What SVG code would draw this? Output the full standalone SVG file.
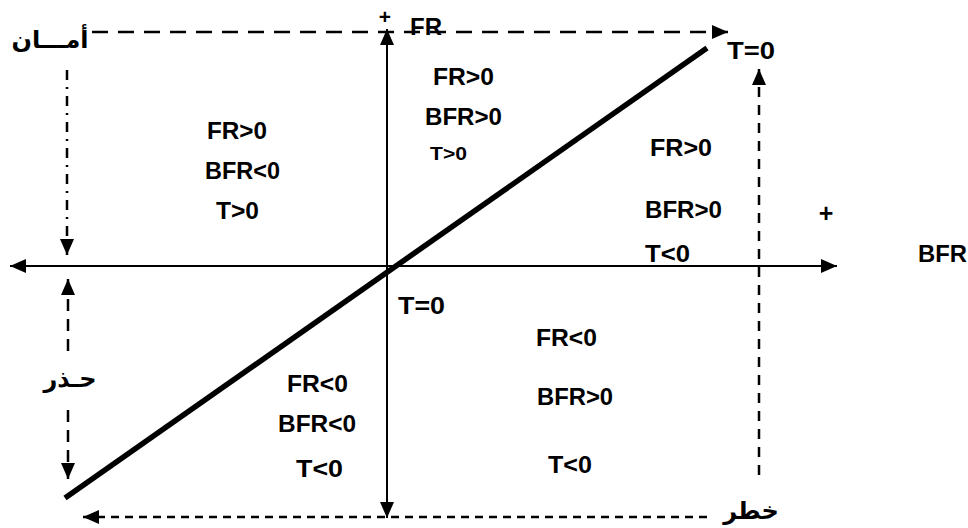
<svg xmlns="http://www.w3.org/2000/svg" width="968" height="528" viewBox="0 0 968 528">
<style>
.lbl{font-family:"Liberation Sans",Arial,sans-serif;font-weight:bold;font-size:23px;fill:#000}
.ar{font-family:"DejaVu Sans",sans-serif;font-weight:bold;font-size:24px;fill:#000}
.axis{stroke:#000;stroke-width:2;fill:none}
.dash{stroke:#000;stroke-width:2.5;fill:none}
</style>
<defs>
<marker id="ah" markerUnits="userSpaceOnUse" markerWidth="16" markerHeight="14" refX="16" refY="7" orient="auto-start-reverse" viewBox="0 0 16 14">
<path d="M0,0 L16,7 L0,14 z" fill="#000"/>
</marker>
</defs>
<rect width="968" height="528" fill="#fff"/>
<g id="connectors">
<line class="axis" x1="10" y1="266" x2="837" y2="266" marker-start="url(#ah)" marker-end="url(#ah)"/>
<line class="axis" x1="387" y1="29" x2="387" y2="518" marker-start="url(#ah)" marker-end="url(#ah)"/>
<line x1="65" y1="498" x2="707" y2="48" stroke="#000" stroke-width="5.5"/>
<line class="dash" x1="92" y1="32" x2="728" y2="32" stroke-dasharray="16 10" marker-end="url(#ah)"/>
<line class="dash" x1="67" y1="70" x2="67" y2="255" stroke-dasharray="10 7 2 7" marker-end="url(#ah)"/>
<line class="dash" x1="68" y1="279" x2="68" y2="358" stroke-dasharray="12 8" marker-start="url(#ah)"/>
<line class="dash" x1="68" y1="410" x2="68" y2="479" stroke-dasharray="12 8" marker-end="url(#ah)"/>
<line class="dash" x1="759" y1="69" x2="759" y2="483" stroke-dasharray="10 8" marker-start="url(#ah)"/>
<line class="dash" x1="83" y1="517" x2="712" y2="517" stroke-dasharray="8 6" marker-start="url(#ah)"/>
</g>
<g id="axis-labels">
<text class="lbl" x="385" y="24" text-anchor="middle" style="font-size:21px">+</text>
<text class="lbl" x="410" y="35" style="font-size:24px" textLength="32" lengthAdjust="spacingAndGlyphs">FR</text>
<text class="lbl" x="826" y="222" text-anchor="middle" style="font-size:25px">+</text>
<text class="lbl" x="918" y="262" style="font-size:24px" textLength="49" lengthAdjust="spacingAndGlyphs">BFR</text>
<text class="lbl" x="727" y="59" textLength="48" lengthAdjust="spacingAndGlyphs">T=0</text>
<text class="lbl" x="398" y="314" textLength="47" lengthAdjust="spacingAndGlyphs">T=0</text>
</g>
<g id="quadrant-top">
<text class="lbl" x="433" y="85" textLength="61" lengthAdjust="spacingAndGlyphs">FR&gt;0</text>
<text class="lbl" x="425" y="125" textLength="77" lengthAdjust="spacingAndGlyphs">BFR&gt;0</text>
<text class="lbl" x="430" y="160" style="font-size:18px" textLength="37" lengthAdjust="spacingAndGlyphs">T&gt;0</text>
</g>
<g id="quadrant-left">
<text class="lbl" x="207" y="139" textLength="60" lengthAdjust="spacingAndGlyphs">FR&gt;0</text>
<text class="lbl" x="205" y="179" textLength="75" lengthAdjust="spacingAndGlyphs">BFR&lt;0</text>
<text class="lbl" x="216" y="219" textLength="43" lengthAdjust="spacingAndGlyphs">T&gt;0</text>
</g>
<g id="quadrant-right">
<text class="lbl" x="650" y="156" textLength="62" lengthAdjust="spacingAndGlyphs">FR&gt;0</text>
<text class="lbl" x="645" y="218" textLength="77" lengthAdjust="spacingAndGlyphs">BFR&gt;0</text>
<text class="lbl" x="645" y="262" textLength="45" lengthAdjust="spacingAndGlyphs">T&lt;0</text>
</g>
<g id="quadrant-bottom-right">
<text class="lbl" x="536" y="346" textLength="61" lengthAdjust="spacingAndGlyphs">FR&lt;0</text>
<text class="lbl" x="537" y="405" textLength="76" lengthAdjust="spacingAndGlyphs">BFR&gt;0</text>
<text class="lbl" x="548" y="473" textLength="44" lengthAdjust="spacingAndGlyphs">T&lt;0</text>
</g>
<g id="quadrant-bottom-left">
<text class="lbl" x="287" y="392" textLength="61" lengthAdjust="spacingAndGlyphs">FR&lt;0</text>
<text class="lbl" x="278" y="432" textLength="78" lengthAdjust="spacingAndGlyphs">BFR&lt;0</text>
<text class="lbl" x="296" y="477" textLength="47" lengthAdjust="spacingAndGlyphs">T&lt;0</text>
</g>
<g id="arabic-labels">
<text class="ar" x="50" y="48" text-anchor="middle">أمـــان</text>
<text class="ar" x="70" y="387" text-anchor="middle">حـذر</text>
<text class="ar" x="751" y="519" text-anchor="middle">خطر</text>
</g>
</svg>
